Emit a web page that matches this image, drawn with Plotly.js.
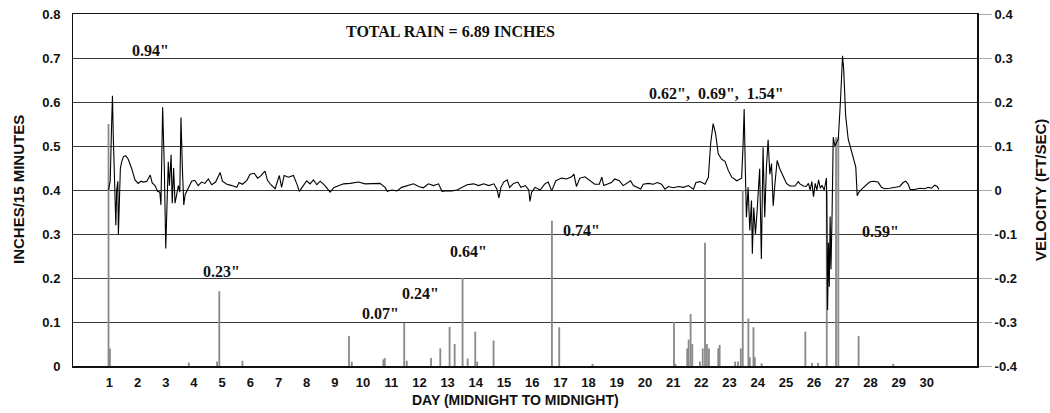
<!DOCTYPE html>
<html>
<head>
<meta charset="utf-8">
<script src="https://cdn.plot.ly/plotly-3.0.1.min.js"></script>
<style>html,body{margin:0;padding:0;background:#fff;}#chart{width:1050px;height:413px;}</style>
</head>
<body>
<div id="chart"></div>
<script>
// Rainfall (inches per 15 minutes) — day of month, value
const rainDay = [0.97, 1.02, 3.82, 4.82, 4.90, 5.72, 9.50, 9.60, 10.72, 10.77, 11.46, 11.55, 12.41, 12.74, 13.07, 13.25, 13.53, 13.71, 13.98, 14.05, 14.63, 16.70, 16.96, 18.14,
  21.03, 21.08, 21.50, 21.55, 21.62, 21.68, 21.95, 22.05, 22.13, 22.20, 22.27, 22.60, 22.65, 23.20, 23.30, 23.40, 23.47, 23.67, 23.72, 23.85, 23.90, 24.14,
  25.69, 25.93, 26.14, 26.45, 26.78, 26.86, 27.58, 28.81];
const rainVal = [0.55, 0.04, 0.008, 0.01, 0.17, 0.012, 0.068, 0.01, 0.015, 0.018, 0.098, 0.012, 0.018, 0.04, 0.089, 0.05, 0.20, 0.017, 0.078, 0.01, 0.058, 0.33, 0.088, 0.005,
  0.10, 0.005, 0.04, 0.06, 0.118, 0.05, 0.01, 0.04, 0.28, 0.05, 0.04, 0.04, 0.048, 0.01, 0.01, 0.04, 0.40, 0.108, 0.02, 0.088, 0.02, 0.006,
  0.078, 0.007, 0.007, 0.40, 0.52, 0.52, 0.068, 0.005];

// Velocity (ft/sec) — day of month, value
const velDay = [0.97,1.03,1.08,1.11,1.14,1.17,1.20,1.23,1.26,1.30,1.32,1.35,1.39,1.44,1.50,1.58,1.67,1.79,1.91,2.02,2.12,2.21,2.33,2.45,2.52,2.62,2.71,2.79,2.83,2.89,2.95,3.00,3.04,3.09,3.13,3.19,3.23,3.28,3.33,3.38,3.45,3.50,3.54,3.59,3.64,3.69,3.79,3.92,
  4.03,4.15,4.27,4.39,4.51,4.63,4.77,4.93,5.01,5.17,5.35,5.52,5.60,5.72,5.88,5.99,6.14,6.26,6.37,6.52,6.61,6.73,6.88,7.03,7.11,7.20,7.35,7.53,7.65,7.74,7.88,8.00,8.12,8.24,8.36,8.48,8.65,8.83,8.97,
  9.13,9.31,9.54,9.84,10.07,10.31,10.60,10.78,10.86,11.02,11.20,11.37,11.55,11.79,11.97,12.14,12.32,12.50,12.68,12.80,12.92,13.15,13.33,13.51,13.69,13.92,14.10,14.28,14.46,14.64,14.75,14.82,14.89,14.99,
  15.11,15.20,15.34,15.49,15.60,15.76,15.88,15.92,15.98,16.10,16.28,16.45,16.57,16.69,16.84,17.04,17.22,17.40,17.48,17.57,17.69,17.87,18.05,18.22,18.38,18.47,18.54,18.66,18.81,18.93,19.09,19.23,19.35,19.49,19.59,19.77,19.85,19.94,
  20.12,20.30,20.44,20.59,20.71,20.83,21.01,21.19,21.37,21.54,21.72,21.81,21.96,22.13,22.25,22.33,22.42,22.51,22.60,22.72,22.84,22.96,23.08,23.26,23.43,23.48,23.52,23.56,23.60,23.66,23.72,23.78,23.81,23.86,23.92,23.98,
  24.07,24.13,24.19,24.25,24.31,24.37,24.43,24.49,24.55,24.61,24.69,24.78,24.90,25.02,25.14,25.32,25.44,25.50,25.62,25.72,25.80,25.86,25.92,25.98,26.04,26.10,26.16,26.22,26.28,26.36,26.44,26.46,26.48,26.51,26.54,26.57,26.60,26.64,26.68,26.74,26.80,26.86,26.94,
  27.01,27.05,27.12,27.21,27.33,27.41,27.48,27.53,27.59,27.71,27.85,27.97,28.11,28.27,28.39,28.50,28.68,28.86,29.04,29.16,29.25,29.33,29.41,29.57,29.75,29.93,30.05,30.17,30.28,30.37,30.43];
const velVal = [0,0.02,0.15,0.214,0.12,0.05,-0.042,-0.08,0.0,0.02,-0.102,-0.03,0.049,0.065,0.076,0.078,0.07,0.049,0.023,0.015,0.02,0.018,0.02,0.034,0.016,0.01,-0.003,-0.005,-0.034,0.188,0.05,-0.133,-0.01,0.064,0.01,0.08,-0.03,0.05,-0.03,-0.01,0.01,-0.005,0.165,0.05,-0.034,-0.01,0.003,0.02,
  0.022,0.01,0.018,0.015,0.025,0.012,0.018,0.04,0.02,0.013,0.01,0.006,0.017,0.013,0.022,0.036,0.038,0.027,0.032,0.043,0.022,0.012,0.003,0.033,0.006,0.033,0.029,0.033,0.014,-0.003,0.01,0.021,0.014,0.023,0.012,0.02,0.01,-0.005,0.006,
  0.01,0.014,0.015,0.018,0.014,0.014,0.015,0.006,-0.003,0,-0.002,0.006,0.01,0.014,0.008,0.005,0.014,0.01,0.014,-0.003,-0.002,-0.002,0,0.006,0.012,0.014,0.01,0.014,0.01,0.014,0.002,-0.018,0.006,0.018,
  0.023,0.006,0.015,0.018,0.006,0.01,0,-0.026,-0.005,0.006,0,0.014,0.018,-0.002,0.021,0.027,0.025,0.03,0.036,0.008,0.027,0.03,0.021,0.013,0.013,0.029,0.01,0.013,0.017,0.025,0.021,0.01,0.015,0.021,0.01,0.005,0.002,0.013,
  0.015,0.013,0.017,0.013,0.002,0.008,0.005,0.008,0.006,0.01,0.002,0.017,0.019,0.013,0.029,0.105,0.151,0.127,0.082,0.07,0.065,0.044,0.029,0.021,0.027,0.1,0.184,0.05,-0.062,0.006,-0.092,-0.024,-0.145,-0.04,-0.1,-0.047,
  0.048,-0.157,0.097,-0.062,0.052,0.114,0.036,0.06,-0.036,0.013,0.067,0.049,0.031,0.015,0.009,0.009,0.019,0.014,0.009,0.008,0.015,0,0.019,-0.015,0.015,0,0.023,0.004,0.011,0,0.027,-0.24,-0.273,-0.12,-0.22,-0.06,-0.18,-0.05,0.12,0.1,0.11,0.116,0.207,
  0.305,0.275,0.169,0.116,0.086,0.063,0.052,-0.013,-0.005,0.003,0.01,0.018,0.02,0.018,0.006,0.003,0.004,0.006,0.008,0.017,0.02,0.014,0.001,0.001,0.004,0.003,0.006,0.004,0.011,0.008,0.001];

const dayTicks = [1,2,3,4,5,6,7,8,9,10,11,12,13,14,15,16,17,18,19,20,21,22,23,24,25,26,27,28,29,30];
const leftTicks = [0,0.1,0.2,0.3,0.4,0.5,0.6,0.7,0.8];
const leftTickText = ['0','0.1','0.2','0.3','0.4','0.5','0.6','0.7','0.8'];
const rightTicks = [-0.4,-0.3,-0.2,-0.1,0,0.1,0.2,0.3,0.4];
const rightTickText = ['-0.4','-0.3','-0.2','-0.1','0','0.1','0.2','0.3','0.4'];

const labelText = ['TOTAL RAIN = 6.89 INCHES','0.94"','0.23"','0.07"','0.24"','0.64"','0.74"','0.62",  0.69",  1.54"','0.59"'];
const labelDay  = [13.09, 2.45, 4.99, 10.62, 12.02, 13.73, 17.74, 22.55, 28.37];
const labelY    = [0.761, 0.718, 0.214, 0.12, 0.164, 0.26, 0.307, 0.62, 0.305];

const sans = 'Liberation Sans, Arial, sans-serif';
const serif = 'Liberation Serif, Times New Roman, serif';

const traces = [
  {type:'bar', x:rainDay, y:rainVal, width:0.065, marker:{color:'#8a8a8a', line:{width:0}}, yaxis:'y', hoverinfo:'none', showlegend:false},
  {type:'scatter', mode:'lines', x:velDay, y:velVal, yaxis:'y2', line:{color:'#000', width:1.1}, hoverinfo:'none', showlegend:false}
];

const ann = labelText.map((t,i)=>({text:t, x:labelDay[i], y:labelY[i], xref:'x', yref:'y', showarrow:false,
  font:{family:serif, size:16, color:'#111', weight:'bold'}, xanchor:'center', yanchor:'middle'}));
ann.push({text:'INCHES/15 MINUTES', xref:'paper', yref:'paper', x:-0.0608, y:0.5, textangle:-90, showarrow:false,
  font:{family:sans, size:15, color:'#111', weight:'bold'}, xanchor:'center', yanchor:'middle'});
ann.push({text:'VELOCITY (FT/SEC)', xref:'paper', yref:'paper', x:1.0697, y:0.5, textangle:-90, showarrow:false,
  font:{family:sans, size:15, color:'#111', weight:'bold'}, xanchor:'center', yanchor:'middle'});
ann.push({text:'DAY (MIDNIGHT TO MIDNIGHT)', xref:'paper', yref:'paper', x:0.4895, y:-0.0966, showarrow:false,
  font:{family:sans, size:14, color:'#111', weight:'bold'}, xanchor:'center', yanchor:'middle'});

const layout = {
  width:1050, height:413,
  margin:{l:73, r:73, t:14, b:47, pad:0},
  paper_bgcolor:'#fff', plot_bgcolor:'#fff',
  showlegend:false,
  xaxis:{range:[-0.29,31.78], tickmode:'array', tickvals:dayTicks, ticktext:dayTicks.map(String),
    showgrid:false, zeroline:false, showline:true, linecolor:'#111', linewidth:1.5, mirror:true,
    ticks:'outside', ticklen:4, tickcolor:'rgba(0,0,0,0)',
    tickfont:{family:sans, size:13, color:'#111', weight:'bold'}},
  yaxis:{range:[0,0.8], tickmode:'array', tickvals:leftTicks, ticktext:leftTickText,
    showgrid:true, gridcolor:'#3a3a3a', gridwidth:1, zeroline:false, showline:true, linecolor:'#111', linewidth:1,
    ticks:'outside', ticklen:9, tickcolor:'rgba(0,0,0,0)',
    tickfont:{family:sans, size:13, color:'#111', weight:'bold'}},
  yaxis2:{range:[-0.4,0.4], overlaying:'y', side:'right', tickmode:'array', tickvals:rightTicks, ticktext:rightTickText,
    showgrid:false, zeroline:false, showline:true, linecolor:'#111', linewidth:2,
    ticks:'outside', ticklen:13, tickcolor:'#aaa', tickwidth:1,
    tickfont:{family:sans, size:13, color:'#111', weight:'bold'}},
  annotations:ann
};

Plotly.newPlot('chart', traces, layout, {staticPlot:true, displayModeBar:false});
</script>
</body>
</html>
